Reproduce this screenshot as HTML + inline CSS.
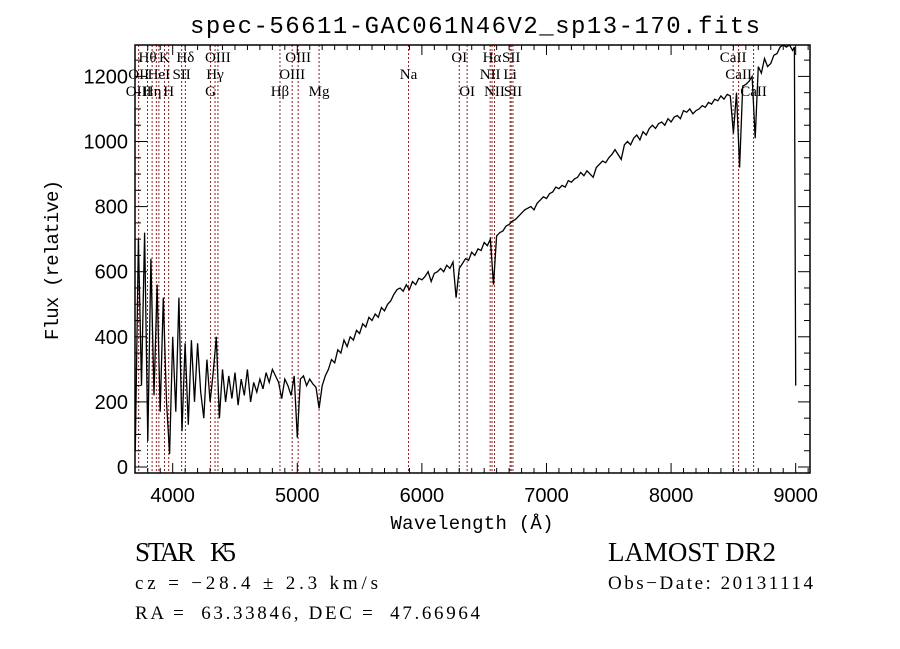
<!DOCTYPE html>
<html><head><meta charset="utf-8"><style>
html,body{margin:0;padding:0;background:#fff;}
svg{display:block;}
</style></head><body>
<svg id="chart" width="900" height="649" xmlns="http://www.w3.org/2000/svg">
<rect width="900" height="649" fill="#fff"/>
<text x="475" y="33" font-family="Liberation Mono, monospace" font-size="24" text-anchor="middle" textLength="570">spec-56611-GAC061N46V2_sp13-170.fits</text>
<g id="lines"></g>
<g id="labels" font-family="Liberation Serif, serif" font-size="15"></g>
<path id="spec" fill="none" stroke="#000" stroke-width="1.3"/>
<g id="axes"></g>
<text x="472" y="529" font-family="Liberation Mono, monospace" font-size="19" text-anchor="middle" textLength="163">Wavelength (Å)</text>
<text transform="translate(58,260) rotate(-90)" font-family="Liberation Mono, monospace" font-size="19" text-anchor="middle" textLength="160">Flux (relative)</text>
<text x="135" y="561" font-family="Liberation Serif, serif" font-size="27" textLength="60">STAR</text>
<text x="210" y="561" font-family="Liberation Serif, serif" font-size="27" textLength="26">K5</text>
<text x="608" y="561" font-family="Liberation Serif, serif" font-size="27" textLength="168">LAMOST DR2</text>
<text x="135" y="589" font-family="Liberation Serif, serif" font-size="19" textLength="243">cz = −28.4 ± 2.3 km/s</text>
<text x="608" y="589" font-family="Liberation Serif, serif" font-size="19" textLength="205">Obs−Date: 20131114</text>
<text x="135" y="619" font-family="Liberation Serif, serif" font-size="19" textLength="345" xml:space="preserve">RA =  63.33846, DEC =  47.66964</text>
</svg>
<script>
const waves = [3700,3725,3750,3775,3800,3825,3850,3875,3900,3925,3950,3975,4000,4025,4050,4075,4100,4125,4150,4175,4200,4225,4250,4275,4300,4325,4350,4375,4400,4425,4450,4475,4500,4525,4550,4575,4600,4625,4650,4675,4700,4725,4750,4775,4800,4825,4850,4875,4900,4925,4950,4975,5000,5025,5050,5075,5100,5125,5150,5175,5200,5225,5250,5275,5300,5325,5350,5375,5400,5425,5450,5475,5500,5525,5550,5575,5600,5625,5650,5675,5700,5725,5750,5775,5800,5825,5850,5875,5900,5925,5950,5975,6000,6025,6050,6075,6100,6125,6150,6175,6200,6225,6250,6275,6300,6325,6350,6375,6400,6425,6450,6475,6500,6525,6550,6575,6600,6625,6650,6675,6700,6725,6750,6775,6800,6825,6850,6875,6900,6925,6950,6975,7000,7025,7050,7075,7100,7125,7150,7175,7200,7225,7250,7275,7300,7325,7350,7375,7400,7425,7450,7475,7500,7525,7550,7575,7600,7625,7650,7675,7700,7725,7750,7775,7800,7825,7850,7875,7900,7925,7950,7975,8000,8025,8050,8075,8100,8125,8150,8175,8200,8225,8250,8275,8300,8325,8350,8375,8400,8425,8450,8475,8500,8525,8550,8575,8600,8625,8650,8675,8700,8725,8750,8775,8800,8825,8850,8875,8900,8925,8950,8975,8990,9000];
const flux = [50,700,250,720,80,640,220,560,170,520,200,40,400,170,520,110,380,130,390,200,380,230,150,330,200,290,400,150,300,200,280,210,290,190,270,220,300,200,260,230,270,240,290,260,300,280,260,210,270,250,220,280,90,270,280,250,270,255,245,180,250,280,300,330,320,360,350,390,370,400,390,420,410,440,430,460,450,470,460,490,480,500,510,530,545,550,540,560,545,570,560,580,575,585,600,570,595,600,610,600,620,610,630,520,610,625,640,635,660,650,670,665,690,680,700,560,710,720,725,740,745,755,760,770,780,790,795,800,790,810,820,830,825,840,845,860,855,865,860,880,875,885,890,905,895,910,900,890,920,930,940,935,950,960,975,960,945,990,1000,990,1010,1020,1005,1030,1020,1040,1050,1040,1055,1060,1050,1070,1060,1075,1080,1070,1095,1090,1100,1085,1095,1100,1110,1105,1120,1115,1130,1125,1140,1130,1145,1140,1025,1150,920,1170,1175,1185,1200,1010,1230,1210,1255,1230,1240,1265,1270,1290,1300,1290,1300,1280,1290,250];
const lineWaves = [3727,3798,3835,3869,3889,3934,3968,4072,4102,4304,4340,4363,4861,4959,5007,5175,5893,6300,6363,6548,6563,6583,6708,6717,6731,8498,8542,8662];
const labelText = ["Hθ","K","Hδ","OIII","OIII","OI","Hα","SII","CaII","OII","HeI","SII","Hγ","OIII","Na","NII","Li","CaII","OIII","Hη","H","G","Hβ","Mg","OI","NII","SII","CaII"];
const labelWaves = [3798,3934,4102,4363,5007,6300,6563,6717,8498,3727,3889,4072,4340,4959,5893,6548,6708,8542,3727,3835,3968,4304,4861,5175,6363,6583,6731,8662];
const labelRows = [0,0,0,0,0,0,0,0,0,1,1,1,1,1,1,1,1,1,2,2,2,2,2,2,2,2,2,2];
const xTicks = [4000,5000,6000,7000,8000,9000];
const yTicks = [0,200,400,600,800,1000,1200];

const L=135,R=810,T=45,B=473;
function xs(w){return 135.3+(w-3700)*0.1246;}
function ys(v){return 467-v*0.3255;}
const NS="http://www.w3.org/2000/svg";
function mk(tag,attrs,parent){const e=document.createElementNS(NS,tag);for(const k in attrs)e.setAttribute(k,attrs[k]);parent.appendChild(e);return e;}

const lg=document.getElementById('lines');
lineWaves.forEach(w=>{
  const l=mk('line',{x1:xs(w),x2:xs(w),y1:T,y2:B,stroke:'#8b2020','stroke-width':1,'stroke-dasharray':'2,2'},lg);
  
  
});
const lb=document.getElementById('labels');
labelText.forEach((t,i)=>{
  const e=mk('text',{x:xs(labelWaves[i]),y:62+labelRows[i]*17,'text-anchor':'middle'},lb);
  e.textContent=t;
  
  
});

let d='';
waves.forEach((w,i)=>{d+=(i?'L':'M')+xs(w).toFixed(1)+','+Math.max(T,ys(flux[i])).toFixed(1);});
document.getElementById('spec').setAttribute('d',d);

const ax=document.getElementById('axes');
const fr=mk('rect',{x:L,y:T,width:R-L,height:B-T,fill:'none',stroke:'#000','stroke-width':1.5},ax);


for(let w=3800;w<=9100;w+=100){
  const major=w%1000===0, len=major?10:5;
  mk('line',{x1:xs(w),x2:xs(w),y1:B,y2:B-len,stroke:'#000'},ax);
  mk('line',{x1:xs(w),x2:xs(w),y1:T,y2:T+len,stroke:'#000'},ax);
}
for(let v=0;v<=1250;v+=50){
  const major=v%200===0, len=major?12:6;
  mk('line',{x1:L,x2:L+len,y1:ys(v),y2:ys(v),stroke:'#000'},ax);
  mk('line',{x1:R,x2:R-len,y1:ys(v),y2:ys(v),stroke:'#000'},ax);
}
xTicks.forEach(t=>{
  const e=mk('text',{x:xs(t),y:502,'text-anchor':'middle','font-family':'Liberation Sans, sans-serif','font-size':20},ax);
  e.textContent=t;
  
  
});
yTicks.forEach(t=>{
  const e=mk('text',{x:128,y:ys(t)+7,'text-anchor':'end','font-family':'Liberation Sans, sans-serif','font-size':20},ax);
  e.textContent=t;
  
  
});
</script>
</body></html>
